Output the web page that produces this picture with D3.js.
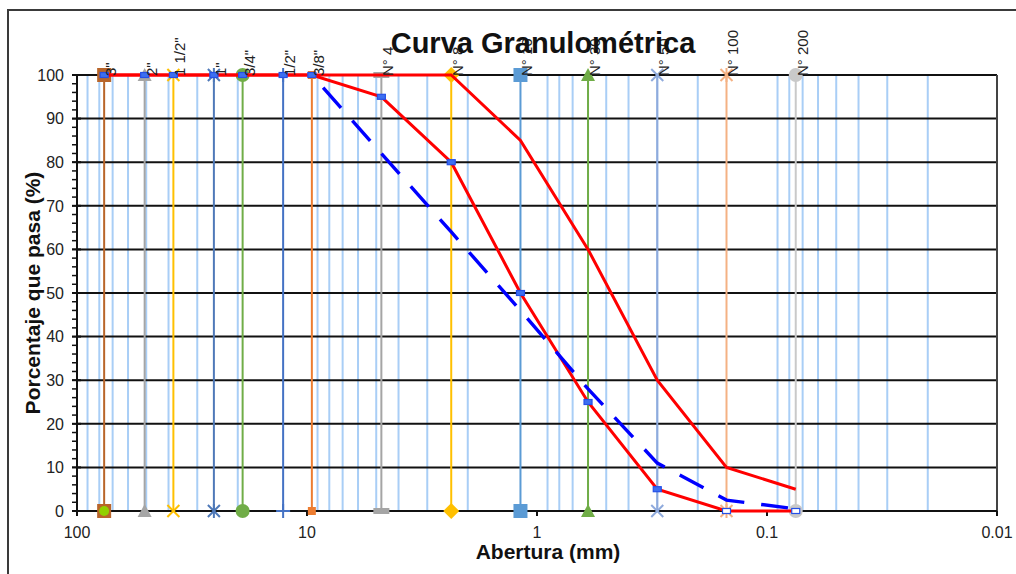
<!DOCTYPE html>
<html>
<head>
<meta charset="utf-8">
<script src="https://cdn.jsdelivr.net/npm/d3@7"></script>
<style>
  body { margin: 0; background: #fff; }
  svg { display: block; font-family: "Liberation Sans", Arial, sans-serif; }
</style>
</head>
<body>
<div id="viz"></div>
<script>
// sieve openings (mm) and their names
const sieveLabels = ['3"', '2"', '1 1/2"', '1"', '3/4"', '1/2"', '3/8"', 'N° 4', 'N° 8', 'N° 16', 'N° 30', 'N° 50', 'N° 100', 'N° 200'];
const sieveSizes = [76.2, 50.8, 38.1, 25.4, 19.05, 12.7, 9.525, 4.75, 2.36, 1.18, 0.6, 0.3, 0.15, 0.075];
const sieveColors = ['#B8652A', '#A5A5A5', '#FFC000', '#4F79B8', '#70AD47', '#4472C4', '#ED7D31', '#A5A5A5', '#FFC000', '#5B9BD5', '#70AD47', '#8FAADC', '#F4B183', '#C9C9C9'];
const sieveMarkers = ['square', 'triangle', 'x', 'asterisk', 'circle', 'plus', 'smallsquare', 'dash', 'diamond', 'square', 'triangle', 'x', 'asterisk', 'circle'];

// limits of the gradation band (% passing at each sieve)
const lowerLimit = [100, 100, 100, 100, 100, 100, 100, 95, 80, 50, 25, 5, 0, 0];
const upperLimit = [100, 100, 100, 100, 100, 100, 100, 100, 100, 85, 60, 30, 10, 5];

// sample curve (dashed blue)
const sampleSizes = [9.525, 4.75, 2.36, 1.18, 0.6, 0.3, 0.15, 0.075];
const samplePass = [100, 82, 64, 46, 28, 11, 2.5, 0.5];

const xTicks = [100, 10, 1, 0.1, 0.01];
const xTickLabels = ['100', '10', '1', '0.1', '0.01'];
const yTicks = [0, 10, 20, 30, 40, 50, 60, 70, 80, 90, 100];

const width = 1016, height = 574;
const margin = {top: 75, right: 19, bottom: 63, left: 77};

const svg = d3.select('#viz').append('svg')
  .attr('width', width)
  .attr('height', height)
  .attr('role', 'img')
  .attr('aria-label', 'Curva Granulométrica');

const x = d3.scaleLog().domain([100, 0.01]).range([margin.left, width - margin.right]);
const y = d3.scaleLinear().domain([0, 100]).range([height - margin.bottom, margin.top]);

// chart frame (only top and left edges visible)
svg.append('rect')
  .attr('x', 8).attr('y', 10)
  .attr('width', width + 20).attr('height', height + 20)
  .attr('fill', 'none').attr('stroke', '#3a3a3a').attr('stroke-width', 2);

// minor vertical gridlines
const minorX = [];
[10, 1, 0.1, 0.01].forEach(k => d3.range(2, 10).forEach(m => minorX.push(m * k)));
svg.append('g').selectAll('line').data(minorX).join('line')
  .attr('x1', d => x(d)).attr('x2', d => x(d))
  .attr('y1', y(0)).attr('y2', y(100))
  .attr('stroke', '#A9CEF6').attr('stroke-width', 2);

// horizontal gridlines
svg.append('g').selectAll('line').data(yTicks).join('line')
  .attr('x1', x(100)).attr('x2', x(0.01))
  .attr('y1', d => y(d)).attr('y2', d => y(d))
  .attr('stroke', '#111').attr('stroke-width', 2);

// right edge of plot area
svg.append('line')
  .attr('x1', x(0.01)).attr('x2', x(0.01))
  .attr('y1', y(0)).attr('y2', y(100))
  .attr('stroke', '#444').attr('stroke-width', 2);

// y axis with crossing major ticks and outside minor ticks
const yAxis = svg.append('g').attr('transform', `translate(${x(100)},0)`);
yAxis.append('line').attr('y1', y(0)).attr('y2', y(100)).attr('stroke', '#111').attr('stroke-width', 2);
yAxis.selectAll('line.minor').data(d3.range(0, 101, 2)).join('line')
  .attr('class', 'minor')
  .attr('x1', -5).attr('x2', 0)
  .attr('y1', d => y(d)).attr('y2', d => y(d))
  .attr('stroke', '#111').attr('stroke-width', 1.5);
yAxis.selectAll('line.major').data(yTicks).join('line')
  .attr('class', 'major')
  .attr('x1', -5).attr('x2', 4)
  .attr('y1', d => y(d)).attr('y2', d => y(d))
  .attr('stroke', '#111').attr('stroke-width', 2);
yAxis.selectAll('text').data(yTicks).join('text')
  .attr('x', -13).attr('y', d => y(d)).attr('dy', '0.36em')
  .attr('text-anchor', 'end').attr('font-size', 16).attr('fill', '#222')
  .text(d => d);

// x axis
const xAxis = svg.append('g').attr('transform', `translate(0,${y(0)})`);
xAxis.append('line').attr('x1', x(100)).attr('x2', x(0.01)).attr('stroke', '#111').attr('stroke-width', 2);
xAxis.selectAll('line.tick').data(xTicks).join('line')
  .attr('class', 'tick')
  .attr('x1', d => x(d)).attr('x2', d => x(d))
  .attr('y1', 0).attr('y2', 5)
  .attr('stroke', '#111').attr('stroke-width', 2);
xAxis.selectAll('text').data(xTicks).join('text')
  .attr('x', d => x(d)).attr('y', 27)
  .attr('text-anchor', 'middle').attr('font-size', 16).attr('fill', '#222')
  .text((d, i) => xTickLabels[i]);

// sieve vertical lines
const sieves = sieveSizes.map((s, i) => ({size: s, label: sieveLabels[i], color: sieveColors[i], marker: sieveMarkers[i]}));
svg.append('g').selectAll('line').data(sieves).join('line')
  .attr('x1', d => x(d.size)).attr('x2', d => x(d.size))
  .attr('y1', y(0)).attr('y2', y(100))
  .attr('stroke', d => d.color).attr('stroke-width', 2);

function drawMarker(g, type, color) {
  if (type === 'square') g.append('rect').attr('x', -7).attr('y', -7).attr('width', 14).attr('height', 14).attr('fill', color);
  else if (type === 'smallsquare') g.append('rect').attr('x', -4).attr('y', -4).attr('width', 8).attr('height', 8).attr('fill', color);
  else if (type === 'dash') g.append('rect').attr('x', -8).attr('y', -3).attr('width', 16).attr('height', 6).attr('fill', color);
  else if (type === 'triangle') g.append('path').attr('d', 'M0,-7L7,6L-7,6Z').attr('fill', color);
  else if (type === 'diamond') g.append('path').attr('d', 'M0,-8L8,0L0,8L-8,0Z').attr('fill', color);
  else if (type === 'circle') g.append('circle').attr('r', 7).attr('fill', color);
  else if (type === 'x') g.append('path').attr('d', 'M-6,-6L6,6M6,-6L-6,6').attr('stroke', color).attr('stroke-width', 2);
  else if (type === 'plus') g.append('path').attr('d', 'M-7,0L7,0M0,-7L0,7').attr('stroke', color).attr('stroke-width', 2);
  else if (type === 'asterisk') g.append('path').attr('d', 'M-6,-6L6,6M6,-6L-6,6M0,-7L0,7').attr('stroke', color).attr('stroke-width', 2);
}

sieves.forEach(d => {
  [0, 100].forEach(v => {
    const g = svg.append('g').attr('transform', `translate(${x(d.size)},${y(v)})`);
    drawMarker(g, d.marker, d.color);
  });
});
// extra series marker at the 3" base
svg.append('circle').attr('cx', x(sieveSizes[0])).attr('cy', y(0)).attr('r', 5).attr('fill', '#92D000');

// gradation limits
const line = d3.line().x(d => x(d[0])).y(d => y(d[1]));
svg.append('path')
  .datum(sieveSizes.map((s, i) => [s, upperLimit[i]]))
  .attr('d', line).attr('fill', 'none').attr('stroke', '#FF0000').attr('stroke-width', 3);
svg.append('path')
  .datum(sieveSizes.map((s, i) => [s, lowerLimit[i]]))
  .attr('d', line).attr('fill', 'none').attr('stroke', '#FF0000').attr('stroke-width', 3);
svg.append('g').selectAll('rect').data(sieveSizes.map((s, i) => [s, lowerLimit[i]])).join('rect')
  .attr('x', d => x(d[0]) - 4).attr('y', d => y(d[1]) - 2.5)
  .attr('width', 8).attr('height', 5)
  .attr('fill', d => d[1] === 0 ? '#fff' : '#3D6FF0')
  .attr('stroke', '#2550E8').attr('stroke-width', 1.2);

// sample curve
svg.append('path')
  .datum(sampleSizes.map((s, i) => [s, samplePass[i]]))
  .attr('d', line).attr('fill', 'none')
  .attr('stroke', '#0000FF').attr('stroke-width', 3.4)
  .attr('stroke-dasharray', '27,17')
  .attr('stroke-dashoffset', 27);

// sieve labels at the top
svg.append('g').selectAll('text').data(sieves).join('text')
  .attr('transform', d => `translate(${x(d.size) + 12},${y(100) + 1}) rotate(-90)`)
  .attr('font-size', 15).attr('fill', '#222')
  .text(d => d.label);

// titles
svg.append('text')
  .attr('x', 543).attr('y', 53)
  .attr('text-anchor', 'middle').attr('font-size', 29).attr('font-weight', 'bold').attr('fill', '#111')
  .text('Curva Granulométrica');
svg.append('text')
  .attr('x', 548).attr('y', 559)
  .attr('text-anchor', 'middle').attr('font-size', 21).attr('font-weight', 'bold').attr('fill', '#111')
  .text('Abertura (mm)');
svg.append('text')
  .attr('transform', `translate(40,${(y(0) + y(100)) / 2}) rotate(-90)`)
  .attr('text-anchor', 'middle').attr('font-size', 21).attr('font-weight', 'bold').attr('fill', '#111')
  .text('Porcentaje que pasa (%)');
</script>
</body>
</html>
